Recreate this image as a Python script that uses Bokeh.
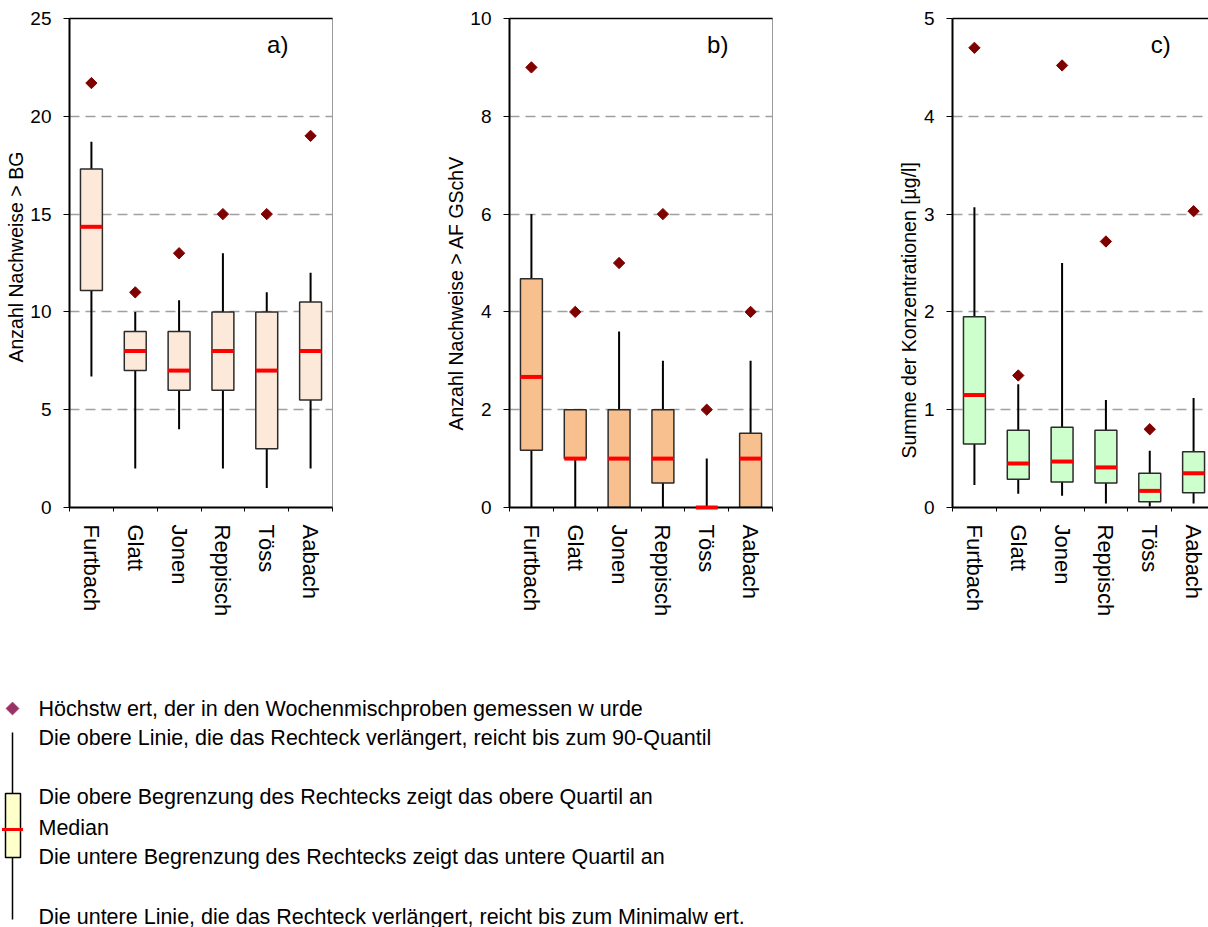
import math
from bokeh.plotting import figure
from bokeh.models import Range1d, FixedTicker, LinearAxis, Label, Title, ColumnDataSource
from bokeh.layouts import column, row
from bokeh.embed import file_html
from bokeh.resources import INLINE
from bokeh.core.properties import value

# ---------------- data ----------------
categories = ["Furtbach", "Glatt", "Jonen", "Reppisch", "Töss", "Aabach"]

# a) Anzahl Nachweise > BG
a_max = [21.7, 11.0, 13.0, 15.0, 15.0, 19.0]
a_p90 = [18.7, 10.0, 10.6, 13.0, 11.0, 12.0]
a_q3 = [17.3, 9.0, 9.0, 10.0, 10.0, 10.5]
a_med = [14.35, 8.0, 7.0, 8.0, 7.0, 8.0]
a_q1 = [11.1, 7.0, 6.0, 6.0, 3.0, 5.5]
a_min = [6.7, 2.0, 4.0, 2.0, 1.0, 2.0]

# b) Anzahl Nachweise > AF GSchV
b_max = [9.0, 4.0, 5.0, 6.0, 2.0, 4.0]
b_p90 = [6.0, 2.0, 3.6, 3.0, 1.0, 3.0]
b_q3 = [4.68, 2.0, 2.0, 2.0, 0.0, 1.52]
b_med = [2.67, 1.0, 1.0, 1.0, 0.0, 1.0]
b_q1 = [1.17, 1.0, 0.0, 0.5, 0.0, 0.0]
b_min = [0.0, 0.0, 0.0, 0.0, 0.0, 0.0]

# c) Summe der Konzentrationen [µg/l]
c_max = [4.70, 1.35, 4.52, 2.72, 0.80, 3.03]
c_p90 = [3.07, 1.26, 2.50, 1.10, 0.58, 1.12]
c_q3 = [1.95, 0.79, 0.82, 0.79, 0.35, 0.57]
c_med = [1.15, 0.45, 0.47, 0.41, 0.17, 0.35]
c_q1 = [0.65, 0.29, 0.26, 0.25, 0.06, 0.15]
c_min = [0.23, 0.14, 0.12, 0.04, 0.01, 0.04]

legend_texts = [
    "Höchstw ert, der in den Wochenmischproben gemessen w urde",
    "Die obere Linie, die das Rechteck verlängert, reicht bis zum 90-Quantil",
    "Die obere Begrenzung des Rechtecks zeigt das obere Quartil an",
    "Median",
    "Die untere Begrenzung des Rechtecks zeigt das untere Quartil an",
    "Die untere Linie, die das Rechteck verlängert, reicht bis zum Minimalw ert.",
]

FONT = "Liberation Sans"
FRAME_H = 489
TOP_H = 640


def panel(ymax, ystep, ylabel, ylabel_offset, tag, fill, data, frame_w, xmax,
          left_border, right_border, outline):
    mx, p90, q3, med, q1, mn = data
    centers = [i + 0.5 for i in range(len(categories))]
    src = ColumnDataSource(dict(x=centers, mx=mx, p90=p90, q3=q3, med=med, q1=q1, mn=mn))
    p = figure(frame_width=frame_w, frame_height=FRAME_H,
               x_range=Range1d(0, xmax), y_range=Range1d(0, ymax),
               output_backend="svg", toolbar_location=None,
               min_border_left=left_border, min_border_right=right_border,
               min_border_top=18, min_border_bottom=TOP_H - 18 - FRAME_H,
               background_fill_color="white", border_fill_color="white")
    p.outline_line_color = "#9a9a9a" if outline else None
    p.outline_line_width = 1

    # whiskers
    p.segment(x0="x", y0="q3", x1="x", y1="p90", source=src, line_color="black", line_width=2)
    p.segment(x0="x", y0="mn", x1="x", y1="q1", source=src, line_color="black", line_width=2)
    # boxes
    p.vbar(x="x", width=0.5, top="q3", bottom="q1", source=src,
           fill_color=fill, line_color="#2b2b2b", line_width=1.5)
    # medians
    m = p.rect(x="x", y="med", width=0.5, height=4, height_units="screen", source=src,
               fill_color="#ff0000", line_color=None)
    m.level = "overlay"
    # maxima
    p.scatter(x="x", y="mx", source=src, marker="square", size=8, angle=math.pi / 4,
              fill_color="#800000", line_color="#800000")

    # axes
    xa = p.xaxis[0]
    xa.ticker = FixedTicker(ticks=centers, minor_ticks=list(range(len(categories) + 1)))
    xa.major_label_overrides = {c: n for c, n in zip(centers, categories)}
    xa.major_label_orientation = "vertical"
    xa.major_tick_line_color = None
    xa.major_tick_out = 0
    xa.major_tick_in = 0
    xa.minor_tick_out = 4
    xa.minor_tick_in = 0
    xa.minor_tick_line_color = "black"
    xa.axis_line_color = "black"
    xa.axis_line_width = 2
    xa.major_label_standoff = 13
    xa.major_label_text_font = FONT
    xa.major_label_text_font_size = "22px"
    xa.major_label_text_color = "black"

    ya = p.yaxis[0]
    ya.ticker = FixedTicker(ticks=[i * ystep for i in range(6)])
    ya.axis_line_color = "black"
    ya.axis_line_width = 2
    ya.major_tick_out = 6
    ya.major_tick_in = 0
    ya.major_tick_line_color = "black"
    ya.minor_tick_line_color = None
    ya.major_label_standoff = 12
    ya.major_label_text_font = FONT
    ya.major_label_text_font_size = "19px"
    ya.major_label_text_color = "black"

    # y-axis title (placed like the original, not exactly centred)
    p.add_layout(Title(text=ylabel, align="left", offset=ylabel_offset, standoff=1,
                       text_font=FONT, text_font_size="19.5px", text_font_style="normal",
                       text_color="black"), "left")

    top = LinearAxis(ticker=FixedTicker(ticks=[]), axis_line_color="black", axis_line_width=1.5,
                     major_tick_line_color=None, minor_tick_line_color=None,
                     major_label_text_font_size="0px")
    p.add_layout(top, "above")

    p.xgrid.grid_line_color = None
    p.ygrid.ticker = FixedTicker(ticks=[i * ystep for i in range(1, 5)])
    p.ygrid.grid_line_color = "#a0a0a0"
    p.ygrid.grid_line_width = 1.5
    p.ygrid.grid_line_dash = "10 6"

    p.add_layout(Label(x=4.75, y=ymax * 0.947, text=tag, text_font=FONT,
                       text_font_size="24px", text_align="center",
                       text_baseline="middle", text_color="black"))
    return p


pa = panel(25, 5, "Anzahl Nachweise > BG", 145, "a)", "#fde9d9",
           (a_max, a_p90, a_q3, a_med, a_q1, a_min), 263, 6, 69, 108, True)
pb = panel(10, 2, "Anzahl Nachweise > AF GSchV", 77, "b)", "#f9c08f",
           (b_max, b_p90, b_q3, b_med, b_q1, b_min), 263, 6, 69, 108, True)
pc = panel(5, 1, "Summe der Konzentrationen [µg/l]", 49, "c)", "#ccffcc",
           (c_max, c_p90, c_q3, c_med, c_q1, c_min), 256, 6 * 256 / 263, 72, 0, False)

# ---------------- explanatory legend ----------------
LEG_H = 927 - TOP_H
pl = figure(width=1208, height=LEG_H, x_range=Range1d(0, 1208), y_range=Range1d(LEG_H, 0),
            output_backend="svg", toolbar_location=None, min_border=0,
            background_fill_color="white", border_fill_color="white")
pl.axis.visible = False
pl.grid.visible = False
pl.outline_line_color = None

text_y = [68, 97, 156, 187, 216, 276]
pl.segment(x0=[12], y0=[92], x1=[12], y1=[279], line_color="black", line_width=1.5)
pl.quad(left=[5], right=[20], top=[153], bottom=[217], fill_color="#ffffcc",
        line_color="black", line_width=1.5)
pl.rect(x=[12], y=[189], width=21, height=3, fill_color="#ff0000", line_color=None)
pl.scatter(x=[12], y=[text_y[0]], marker="square", size=9, angle=math.pi / 4,
           fill_color="#993366", line_color="#993366")
pl.text(x=[38] * len(legend_texts), y=text_y, text=legend_texts,
        text_font=value(FONT), text_font_size="21.5px", text_baseline="middle",
        text_align="left", text_color="black")

layout = column(row(pa, pb, pc, spacing=0), pl, spacing=0)
open("out.html", "w").write(file_html(layout, INLINE))
